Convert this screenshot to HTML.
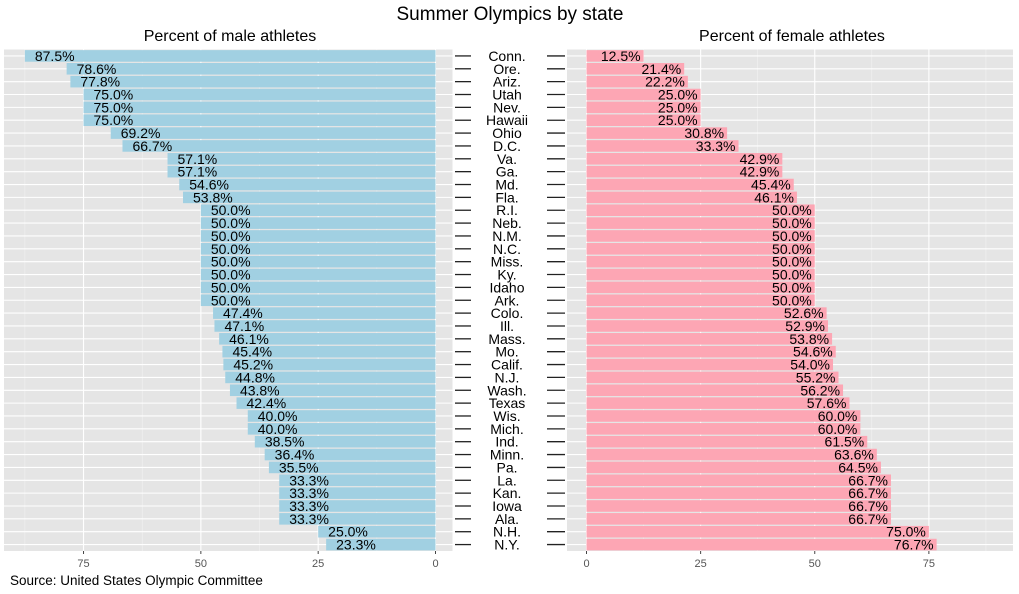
<!DOCTYPE html>
<html><head><meta charset="utf-8">
<style>
body{margin:0;background:#fff;}
svg text{font-family:"Liberation Sans",Arial,sans-serif;}
</style></head>
<body>
<svg id="chart" width="1019" height="589" xmlns="http://www.w3.org/2000/svg">
<text x="510" y="20" text-anchor="middle" font-size="19" fill="#000">Summer Olympics by state</text>
<text x="230" y="41" text-anchor="middle" font-size="16" fill="#000">Percent of male athletes</text>
<text x="792" y="41" text-anchor="middle" font-size="16" fill="#000">Percent of female athletes</text>
<text x="10" y="585" font-size="13.5" fill="#000">Source: United States Olympic Committee</text>
<g id="left"></g>
<g id="mid"></g>
<g id="right"></g>
</svg>
<script>
const states = ["Conn.","Ore.","Ariz.","Utah","Nev.","Hawaii","Ohio","D.C.","Va.","Ga.","Md.","Fla.","R.I.","Neb.","N.M.","N.C.","Miss.","Ky.","Idaho","Ark.","Colo.","Ill.","Mass.","Mo.","Calif.","N.J.","Wash.","Texas","Wis.","Mich.","Ind.","Minn.","Pa.","La.","Kan.","Iowa","Ala.","N.H.","N.Y."];
const maleValues = [87.5,78.6,77.8,75.0,75.0,75.0,69.2,66.7,57.1,57.1,54.6,53.8,50.0,50.0,50.0,50.0,50.0,50.0,50.0,50.0,47.4,47.1,46.1,45.4,45.2,44.8,43.8,42.4,40.0,40.0,38.5,36.4,35.5,33.3,33.3,33.3,33.3,25.0,23.3];
const femaleValues = [12.5,21.4,22.2,25.0,25.0,25.0,30.8,33.3,42.9,42.9,45.4,46.1,50.0,50.0,50.0,50.0,50.0,50.0,50.0,50.0,52.6,52.9,53.8,54.6,54.0,55.2,56.2,57.6,60.0,60.0,61.5,63.6,64.5,66.7,66.7,66.7,66.7,75.0,76.7];
const tickValues = [0,25,50,75];

const NS="http://www.w3.org/2000/svg";
function mk(tag,attrs,parent){const e=document.createElementNS(NS,tag);for(const k in attrs)e.setAttribute(k,attrs[k]);parent.appendChild(e);return e;}
const plotTop=49.5, plotBottom=551, n=states.length, step=(plotBottom-plotTop)/n, bh=step*0.9;
const yC=i=>plotTop+step*(i+0.5);
const xL=v=>435.5-v*4.693;
const xR=v=>586.5+v*4.565;
const L=document.getElementById('left'), R=document.getElementById('right'), M=document.getElementById('mid');

function panel(g,x0,x1,xs,name){
  const bg=mk('rect',{x:Math.min(x0,x1),y:plotTop,width:Math.abs(x1-x0),height:plotBottom-plotTop,fill:'#e5e5e5'},g);
  
  
  for(let v=12.5;v<=87.5;v+=25){const x=xs(v);if(x>Math.min(x0,x1)&&x<Math.max(x0,x1))mk('line',{x1:x,x2:x,y1:plotTop,y2:plotBottom,stroke:'#f2f2f2','stroke-width':0.6},g);}
  tickValues.forEach(v=>{const x=xs(v);mk('line',{x1:x,x2:x,y1:plotTop,y2:plotBottom,stroke:'#fff','stroke-width':1.1},g);
    mk('line',{x1:x,x2:x,y1:plotBottom,y2:plotBottom+3,stroke:'#444','stroke-width':1},g);
    const t=mk('text',{x:x,y:plotBottom+16,'text-anchor':'middle','font-size':11,fill:'#555'},g);t.textContent=v;
    
    });
  for(let i=0;i<n;i++)mk('line',{x1:x0,x2:x1,y1:yC(i),y2:yC(i),stroke:'#fff','stroke-width':1.1},g);
}
panel(L,4,452.5,xL,'male');
panel(R,567,1013,xR,'female');

for(let i=0;i<n;i++){
  const y=yC(i);
  const bl=mk('rect',{x:xL(maleValues[i]),y:y-bh/2,width:xL(0)-xL(maleValues[i]),height:bh,fill:'#a1d0e2'},L);
  
  
  const tl=mk('text',{x:xL(maleValues[i])+10,y:y+5,'font-size':14,fill:'#000'},L);
  tl.textContent=maleValues[i].toFixed(1)+'%';
  
  
  const br=mk('rect',{x:xR(0),y:y-bh/2,width:xR(femaleValues[i])-xR(0),height:bh,fill:'#fda6b4'},R);
  
  
  const tr=mk('text',{x:xR(femaleValues[i])-3,y:y+5,'font-size':14,fill:'#000','text-anchor':'end'},R);
  tr.textContent=femaleValues[i].toFixed(1)+'%';
  
  
  mk('line',{x1:455,x2:471,y1:y,y2:y,stroke:'#222','stroke-width':1.3},M);
  mk('line',{x1:547,x2:565,y1:y,y2:y,stroke:'#222','stroke-width':1.3},M);
  const s=mk('text',{x:507,y:y+5,'text-anchor':'middle','font-size':14,fill:'#000'},M);
  s.textContent=states[i];
  
  
}
</script>
</body></html>
